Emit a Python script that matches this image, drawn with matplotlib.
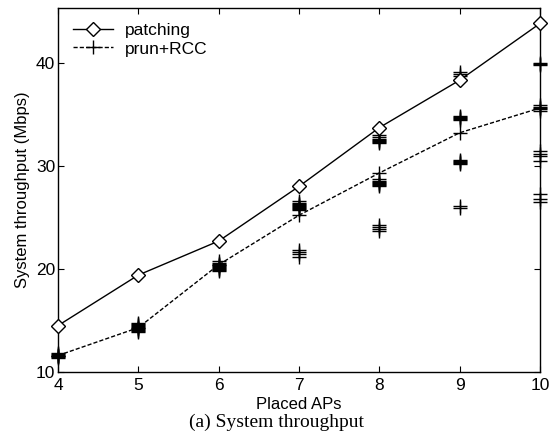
import numpy as np
import matplotlib
matplotlib.use("Agg")
import matplotlib.pyplot as plt

# mean curves
placed_aps = [4, 5, 6, 7, 8, 9, 10]
patching = [14.5, 19.4, 22.7, 28.0, 33.7, 38.3, 43.8]
prun_rcc = [11.6, 14.3, 20.4, 25.2, 29.3, 33.2, 35.6]

# individual runs (prun+RCC), one list per placed-AP count
runs_4 = [11.4, 11.5, 11.55, 11.6, 11.65, 11.7, 11.8]
runs_5 = [13.9, 14.0, 14.1, 14.2, 14.3, 14.4, 14.5, 14.6, 14.7, 14.8]
runs_6 = [19.8, 19.9, 20.0, 20.1, 20.2, 20.3, 20.4, 20.5, 20.6, 20.8]
runs_7 = [25.7, 25.8, 25.9, 26.0, 26.1, 26.2, 26.3, 26.4, 26.6,
          21.2, 21.4, 21.6, 21.8]
runs_8 = [32.2, 32.3, 32.4, 32.5, 32.6, 32.8, 33.0,
          28.0, 28.1, 28.2, 28.3, 28.4, 28.5, 28.7,
          23.7, 23.9, 24.1, 24.3]
runs_9 = [38.7, 38.9, 39.1,
          34.4, 34.5, 34.6, 34.7, 34.8,
          30.2, 30.3, 30.4, 30.5, 30.6,
          25.9, 26.1]
runs_10 = [39.8, 39.9, 40.0,
           35.3, 35.5, 35.7, 35.9,
           30.5, 30.9, 31.1, 31.4,
           26.5, 26.8, 27.3]
runs = {4: runs_4, 5: runs_5, 6: runs_6, 7: runs_7, 8: runs_8, 9: runs_9, 10: runs_10}

plt.rcParams["font.family"] = ["Liberation Sans", "DejaVu Sans"]

fig = plt.figure(figsize=(5.49, 4.37), dpi=100)
ax = fig.add_axes([58 / 549, 1 - 372 / 437, 482 / 549, 364 / 437])

for x, vals in runs.items():
    ax.plot([x] * len(vals), vals, linestyle="none", marker="+", color="black",
            markersize=10.5, markeredgewidth=1.0, clip_on=False)

ax.plot(placed_aps, patching, "-", color="black", lw=1.0, marker="D",
        markersize=6.8, markerfacecolor="white", markeredgewidth=1.0,
        label="patching", clip_on=False, zorder=3)
ax.plot(placed_aps, prun_rcc, "--", color="black", lw=1.0, marker="+",
        markersize=10.5, markeredgewidth=1.0, dashes=(3, 1.5),
        label="prun+RCC", clip_on=False, zorder=3)

ax.set_xlim(4, 10)
ax.set_ylim(10, 45.3)
ax.set_xticks(placed_aps)
ax.set_yticks([10, 20, 30, 40])
ax.tick_params(direction="in", top=True, right=True, labelsize=12.5,
               length=4, width=0.8)
ax.tick_params(axis="x", pad=4)
ax.tick_params(axis="y", pad=2)
for s in ax.spines.values():
    s.set_linewidth(1.0)

ax.set_xlabel("Placed APs", fontsize=12, labelpad=3)
ax.set_ylabel("System throughput (Mbps)", fontsize=12, labelpad=4)

ax.legend(loc="upper left", frameon=False, fontsize=12.5, handlelength=2.3,
          handletextpad=0.7, borderaxespad=0.35, borderpad=0.5, labelspacing=0.2)

fig.text(0.503, 1 - 422 / 437, "(a) System throughput", ha="center", va="center",
         fontsize=14, family="Liberation Serif")

fig.savefig("out.png", dpi=100)
